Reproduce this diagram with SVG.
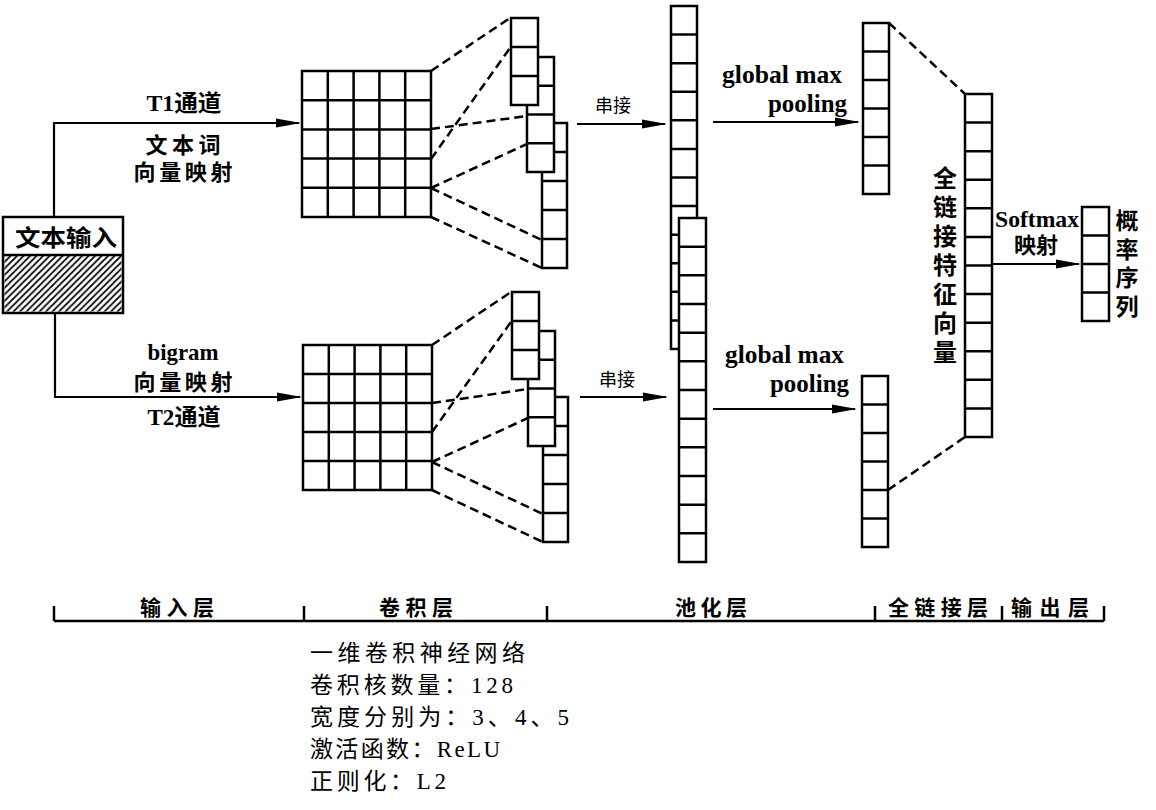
<svg xmlns="http://www.w3.org/2000/svg" width="1156" height="810" viewBox="0 0 1156 810">
<defs>
<style>
.cell{fill:#fff;stroke:#000;stroke-width:2.5}
.ln{fill:none;stroke:#000;stroke-width:2.5}
.arr{fill:none;stroke:#000;stroke-width:2.2;marker-end:url(#ah)}
.dash{fill:none;stroke:#000;stroke-width:2.5;stroke-dasharray:9 5}
.t{font-family:"Liberation Serif","Noto Sans CJK SC",serif;fill:#000}
.b{font-weight:bold}
.h{font-family:"Noto Sans CJK SC","Liberation Sans",sans-serif;font-weight:bold;fill:#000}
</style>
<marker id="ah" markerUnits="userSpaceOnUse" markerWidth="26" markerHeight="10" refX="23" refY="5" orient="auto">
<path d="M0,0.5 L25,5 L0,9.5 z" fill="#000"/>
</marker>
<pattern id="hatch" patternUnits="userSpaceOnUse" width="6.5" height="6.5">
<path d="M-1,7.5 L7.5,-1 M-3,3 L3,-3 M3.5,9.5 L9.5,3.5" stroke="#000" stroke-width="1.8"/>
</pattern>
</defs>
<rect width="1156" height="810" fill="#fff"/>

<g id="connectors">
<polyline class="arr" points="54,217 54,123 299,123"/>
<polyline class="arr" points="55,313 55,397 300,397"/>
<line class="arr" x1="577" y1="124" x2="665" y2="124"/>
<line class="arr" x1="580" y1="397" x2="666" y2="397"/>
<line class="arr" x1="713" y1="122" x2="858" y2="122"/>
<line class="arr" x1="713" y1="409" x2="855" y2="409"/>
<line class="arr" x1="992" y1="264" x2="1079" y2="264"/>
<g class="dash">
<line x1="431" y1="71" x2="510" y2="18"/>
<line x1="431" y1="159" x2="510" y2="48"/>
<line x1="431" y1="129" x2="527" y2="116"/>
<line x1="431" y1="188" x2="527" y2="144"/>
<line x1="431" y1="188" x2="542" y2="240"/>
<line x1="431" y1="217" x2="542" y2="268"/>
<line x1="432" y1="345" x2="511" y2="292"/>
<line x1="432" y1="432" x2="511" y2="322"/>
<line x1="432" y1="403" x2="528" y2="389"/>
<line x1="432" y1="462" x2="528" y2="418"/>
<line x1="432" y1="462" x2="543" y2="514"/>
<line x1="432" y1="490" x2="543" y2="542"/>
<line x1="889" y1="23" x2="965" y2="94"/>
<line x1="888" y1="490" x2="965" y2="437"/>
</g>
</g>

<g id="input">
<rect class="cell" x="3" y="217" width="120" height="96"/>
<rect x="4.5" y="255" width="117" height="56.5" fill="url(#hatch)"/>
<line class="ln" x1="3" y1="255" x2="123" y2="255"/>
<text class="t b" x="15" y="246" font-size="23" textLength="102" lengthAdjust="spacingAndGlyphs">文本输入</text>
</g>

<g id="labels-left" class="t b" font-size="22" text-anchor="middle">
<text x="184" y="111" font-size="23" textLength="75" lengthAdjust="spacingAndGlyphs">T1通道</text>
<text x="183" y="153" textLength="75">文本词</text>
<text x="183" y="180" textLength="99">向量映射</text>
<text x="183" y="360" font-size="23" textLength="71" lengthAdjust="spacingAndGlyphs">bigram</text>
<text x="183" y="390" textLength="99">向量映射</text>
<text x="184" y="425" font-size="23" textLength="73" lengthAdjust="spacingAndGlyphs">T2通道</text>
</g>

<g id="grid-top">
<rect class="cell" x="302" y="71" width="129" height="146"/>
<path class="ln" d="M327.8,71V217M353.6,71V217M379.4,71V217M405.2,71V217M302,100.2H431M302,129.4H431M302,158.6H431M302,187.8H431"/>
</g>
<g id="grid-bottom">
<rect class="cell" x="303" y="345" width="129" height="145"/>
<path class="ln" d="M328.8,345V490M354.6,345V490M380.4,345V490M406.2,345V490M303,374H432M303,403H432M303,432H432M303,461H432"/>
</g>

<g id="fmap-top">
<rect class="cell" x="542" y="123" width="25" height="145"/>
<path class="ln" d="M542,152H567M542,181H567M542,210H567M542,239H567"/>
<rect class="cell" x="527" y="57" width="27" height="115"/>
<path class="ln" d="M527,85.75H554M527,114.5H554M527,143.25H554"/>
<rect class="cell" x="511" y="18" width="27" height="87"/>
<path class="ln" d="M511,47H538M511,76H538"/>
</g>
<g id="fmap-bottom">
<rect class="cell" x="543" y="397" width="25" height="145"/>
<path class="ln" d="M543,426H568M543,455H568M543,484H568M543,513H568"/>
<rect class="cell" x="528" y="331" width="27" height="115"/>
<path class="ln" d="M528,359.75H555M528,388.5H555M528,417.25H555"/>
<rect class="cell" x="512" y="292" width="27" height="87"/>
<path class="ln" d="M512,321H539M512,350H539"/>
</g>

<g id="concat-labels" class="t" font-size="18" text-anchor="middle">
<text x="613" y="112">串接</text>
<text x="617" y="386">串接</text>
</g>

<g id="pool-col1">
<rect class="cell" x="671" y="6" width="26" height="343"/>
<path class="ln" d="M671,34.6H697M671,63.2H697M671,91.7H697M671,120.3H697M671,148.9H697M671,177.5H697M671,206.1H697M671,234.7H697M671,263.2H697M671,291.8H697M671,320.4H697"/>
</g>
<g id="pool-col2">
<rect class="cell" x="679" y="218" width="27" height="344"/>
<path class="ln" d="M679,246.7H706M679,275.3H706M679,304H706M679,332.7H706M679,361.3H706M679,390H706M679,418.7H706M679,447.3H706M679,476H706M679,504.7H706M679,533.3H706"/>
</g>

<g id="gmp-labels" class="t b" font-size="25">
<text x="722" y="83" textLength="120" lengthAdjust="spacingAndGlyphs">global max</text>
<text x="847" y="112" text-anchor="end" textLength="79" lengthAdjust="spacingAndGlyphs">pooling</text>
<text x="725" y="363" textLength="119" lengthAdjust="spacingAndGlyphs">global max</text>
<text x="849" y="392" text-anchor="end" textLength="79" lengthAdjust="spacingAndGlyphs">pooling</text>
</g>

<g id="pooled-top">
<rect class="cell" x="863" y="23" width="26" height="171"/>
<path class="ln" d="M863,51.5H889M863,80H889M863,108.5H889M863,137H889M863,165.5H889"/>
</g>
<g id="pooled-bottom">
<rect class="cell" x="862" y="376" width="26" height="171"/>
<path class="ln" d="M862,404.5H888M862,433H888M862,461.5H888M862,490H888M862,518.5H888"/>
</g>

<g id="fc-vector">
<rect class="cell" x="965" y="94" width="27" height="343"/>
<path class="ln" d="M965,122.6H992M965,151.2H992M965,179.7H992M965,208.3H992M965,236.9H992M965,265.5H992M965,294.1H992M965,322.7H992M965,351.2H992M965,379.8H992M965,408.4H992"/>
<text class="t b" font-size="24" text-anchor="middle"><tspan x="945" y="187">全</tspan><tspan x="945" y="216">链</tspan><tspan x="945" y="245">接</tspan><tspan x="945" y="274">特</tspan><tspan x="945" y="303">征</tspan><tspan x="945" y="332">向</tspan><tspan x="945" y="361">量</tspan></text>
</g>

<g id="softmax-label" class="t b">
<text x="995" y="227" font-size="23" textLength="84" lengthAdjust="spacingAndGlyphs">Softmax</text>
<text x="1036" y="253" font-size="22" text-anchor="middle">映射</text>
</g>

<g id="output">
<rect class="cell" x="1082" y="207" width="27" height="114"/>
<path class="ln" d="M1082,235.5H1109M1082,264H1109M1082,292.5H1109"/>
<text class="t b" font-size="23" text-anchor="middle"><tspan x="1127" y="229">概</tspan><tspan x="1127" y="258">率</tspan><tspan x="1127" y="286">序</tspan><tspan x="1127" y="315">列</tspan></text>
</g>

<g id="axis">
<path class="ln" stroke-width="3" d="M54,621H1104M54,606V621M304,606V621M547,606V621M875,606V621M1002,606V621M1104,606V621"/>
<g class="h" font-size="21" text-anchor="middle">
<text x="177" y="615" textLength="74">输入层</text>
<text x="416" y="615" textLength="74">卷积层</text>
<text x="711" y="615" textLength="72">池化层</text>
<text x="938" y="615" textLength="100">全链接层</text>
<text x="1050" y="615" textLength="78">输出层</text>
</g>
</g>

<g id="notes" class="t" font-size="23">
<text x="310" y="661" textLength="215">一维卷积神经网络</text>
<text x="310" y="693" textLength="203">卷积核数量：128</text>
<text x="310" y="725" textLength="259">宽度分别为：3、4、5</text>
<text x="310" y="757" textLength="190">激活函数：ReLU</text>
<text x="310" y="789" textLength="136">正则化：L2</text>
</g>
</svg>
